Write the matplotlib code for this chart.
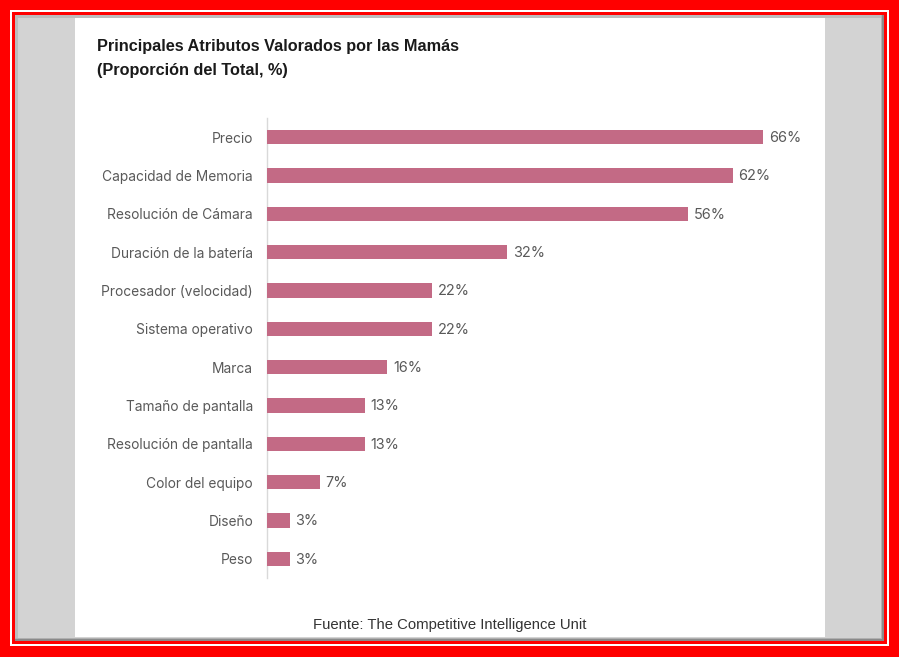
import matplotlib
matplotlib.use("Agg")
import matplotlib.pyplot as plt
from matplotlib.patches import Rectangle

categories = ["Precio", "Capacidad de Memoria", "Resolución de Cámara", "Duración de la batería",
              "Procesador (velocidad)", "Sistema operativo", "Marca", "Tamaño de pantalla",
              "Resolución de pantalla", "Color del equipo", "Diseño", "Peso"]
values = [66, 62, 56, 32, 22, 22, 16, 13, 13, 7, 3, 3]
title_lines = ["Principales Atributos Valorados por las Mamás", "(Proporción del Total, %)"]
source = "Fuente: The Competitive Intelligence Unit"

W, H = 899, 657
plt.rcParams['font.family'] = ['Liberation Sans', 'DejaVu Sans']
fig = plt.figure(figsize=(W / 100, H / 100), dpi=100)

def rect(x0, y0, x1, y1, color, z=0):
    # pixel coords, y from top
    fig.patches.append(Rectangle((x0 / W, 1 - y1 / H), (x1 - x0) / W, (y1 - y0) / H,
                                 transform=fig.transFigure, facecolor=color, edgecolor='none', zorder=z))

# frame
rect(0, 0, W, H, '#ff0000', 0)
rect(10, 10, 889, 646, '#ffffff', 1)
rect(12, 12, 887, 644, '#ff0000', 2)
rect(15, 15, 884, 641, '#8a8a8a', 3)
rect(15, 15, 882, 639, '#b0b0b0', 3)
rect(15, 15, 881, 638, '#d3d3d3', 4)
rect(75, 15, 825, 637, '#ffffff', 5)
# inner shadow hints
rect(15, 15, 18, 638, '#bdbdbd', 5)
rect(15, 15, 881, 18, '#bdbdbd', 5)

ax = fig.add_axes([267 / W, 1 - 578 / H, (825 - 267) / W, (578 - 118) / H])
ax.set_zorder(10)
ax.patch.set_alpha(0)
y = list(range(len(categories)))
ax.barh(y, values, height=0.37, color='#c36a85', zorder=3)
ax.set_ylim(len(categories) - 0.5, -0.5)
ax.set_xlim(0, (825 - 267) / 7.515)
ax.set_yticks(y)
ax.set_yticklabels(categories, fontsize=9.9, color='#595959', family=['Inter', 'DejaVu Sans'])
ax.tick_params(axis='y', length=0, pad=10)
ax.set_xticks([])
for s in ['top', 'right', 'bottom']:
    ax.spines[s].set_visible(False)
ax.spines['left'].set_color('#d9d9d9')
ax.spines['left'].set_linewidth(1)
for yi, v in zip(y, values):
    ax.text(v + 0.75, yi + 0.02, f"{v}%", va='center', ha='left', fontsize=10.4, color='#595959',
            family=['Inter', 'DejaVu Sans'])

fig.text(97 / W, 1 - 46 / H, title_lines[0], fontsize=11.7, fontweight='bold', color='#1a1a1a',
         va='center', ha='left', zorder=20)
fig.text(97 / W, 1 - 70 / H, title_lines[1], fontsize=11.7, fontweight='bold', color='#1a1a1a',
         va='center', ha='left', zorder=20)
fig.text(450 / W, 1 - 625 / H, source, fontsize=10.7, color='#333333', va='center', ha='center', zorder=20)

fig.savefig("out.png", dpi=100)
